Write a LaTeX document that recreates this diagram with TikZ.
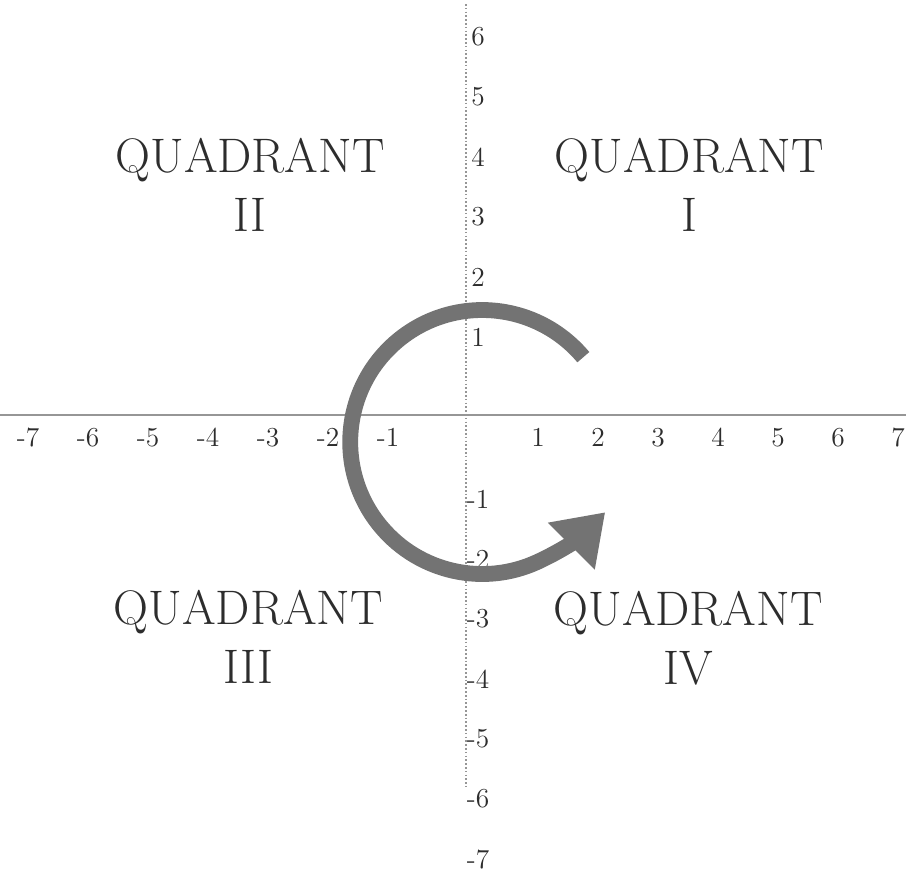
\documentclass[tikz,border=0pt]{standalone}
\usetikzlibrary{arrows.meta}
\definecolor{axisclr}{RGB}{150,150,150}
\definecolor{arcclr}{RGB}{115,115,115}
\definecolor{txtclr}{RGB}{45,45,45}
\tikzset{
  % axes
  xaxisline/.style = {axisclr, line width=1.2pt},
  yaxisline/.style = {axisclr, densely dotted, line width=0.8pt},
  % tick numbers
  ticklab/.style   = {font=\fontsize{13}{15}\selectfont, txtclr, inner sep=0pt},
  % quadrant names
  quadlab/.style   = {font=\fontsize{23}{28}\selectfont, txtclr, align=center},
  % turning arrow
  turnarrow/.style = {arcclr, line width=7.5pt, -{Triangle[length=0.8cm, width=1.05cm]}},
}
\begin{document}
\begin{tikzpicture}
  \useasboundingbox (-7.767,-7.7) rectangle (7.333,6.917);
  % axes
  \coordinate (xl) at (-7.767,0);
  \coordinate (xr) at (7.333,0);
  \coordinate (yt) at (0,6.85);
  \coordinate (yb) at (0,-6.2);
  \draw[xaxisline] (xl) -- (xr);
  \draw[yaxisline] (yt) -- (yb);
  % tick numbers
  \foreach \x in {1,...,7}{
    \node[ticklab] (xp\x) at (\x+0.2,-0.37) {\x};
    \node[ticklab] (xn\x) at (-\x-0.3,-0.37) {-\x};
  }
  \foreach \y in {1,...,6}
    \node[ticklab] (yp\y) at (0.2,\y+0.3) {\y};
  \foreach \y in {1,...,7}
    \node[ticklab] (yn\y) at (0.2,-\y-0.4) {-\y};
  % quadrants
  \node[quadlab] (q1) at (3.72,3.83) {QUADRANT\\I};
  \node[quadlab] (q2) at (-3.6,3.83) {QUADRANT\\II};
  \node[quadlab] (q3) at (-3.63,-3.7) {QUADRANT\\III};
  \node[quadlab] (q4) at (3.7,-3.72) {QUADRANT\\IV};
  % arrow round the origin
  \coordinate (ctr) at (0.27,-0.45);
  \coordinate (tip) at (2.32,-1.62);
  \draw[turnarrow] ([shift={(40:2.2)}]ctr) arc[start angle=40, end angle=295, radius=2.2]
    to[out=25, in=225] (tip);
\end{tikzpicture}
\end{document}
